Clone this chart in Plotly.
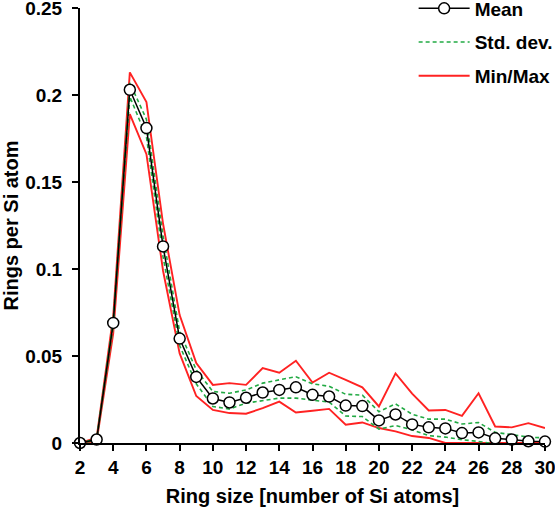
import plotly.graph_objects as go

ring_size = list(range(2, 31))
mean_vals = [0, 0.002, 0.069, 0.203, 0.181, 0.113, 0.060, 0.038, 0.0256, 0.0233,
             0.026, 0.029, 0.0305, 0.032, 0.0277, 0.0267, 0.0215, 0.0212, 0.013, 0.0164,
             0.0107, 0.009, 0.0084, 0.0057, 0.0061, 0.0027, 0.002, 0.001, 0.0008]
max_vals = [0, 0.003, 0.073, 0.213, 0.196, 0.126, 0.0735, 0.046, 0.0334, 0.0344,
            0.0334, 0.043, 0.0404, 0.0473, 0.0347, 0.0404, 0.0363, 0.032, 0.021, 0.040,
            0.0284, 0.0187, 0.019, 0.0156, 0.0286, 0.0095, 0.009, 0.0114, 0.0086]
min_vals = [0, 0.001, 0.063, 0.189, 0.166, 0.099, 0.0515, 0.027, 0.019, 0.0172,
            0.0168, 0.020, 0.0238, 0.0175, 0.0185, 0.0196, 0.0105, 0.0118, 0.0086, 0.0067,
            0.0040, 0.0029, 0, 0, 0, 0, 0, 0, 0]
std_upper = [0, 0.0025, 0.071, 0.207, 0.186, 0.119, 0.064, 0.042, 0.0296, 0.0286,
             0.0305, 0.0344, 0.0363, 0.0381, 0.034, 0.0326, 0.028, 0.0275, 0.018, 0.0225,
             0.0165, 0.0137, 0.0137, 0.0109, 0.0118, 0.0061, 0.0048, 0.0034, 0.0029]
std_lower = [0, 0.0015, 0.067, 0.199, 0.176, 0.107, 0.056, 0.034, 0.021, 0.0195,
             0.0229, 0.0244, 0.0258, 0.0258, 0.0248, 0.0235, 0.0155, 0.0152, 0.008, 0.010,
             0.0076, 0.0042, 0.0034, 0.0019, 0.0009, -0.0005, -0.0005, -0.001, -0.001]

x_ticks = list(range(2, 31, 2))
y_ticks = [0, 0.05, 0.1, 0.15, 0.2, 0.25]
y_ticktext = ["0", "0.05", "0.1", "0.15", "0.2", "0.25"]

RED = "#ff2222"
GREEN = "#22aa44"
FONT = dict(family="Liberation Sans, Arial, sans-serif", size=20, color="black", weight="bold")
TICKFONT = dict(FONT, size=19)
LEGFONT = dict(FONT, size=19)

fig = go.Figure()
fig.add_trace(go.Scatter(x=ring_size, y=max_vals, mode="lines", name="Min/Max",
                         line=dict(color=RED, width=1.9), legendgroup="mm", legendrank=3,
                         cliponaxis=False))
fig.add_trace(go.Scatter(x=ring_size, y=min_vals, mode="lines", name="Min/Max",
                         line=dict(color=RED, width=1.9), legendgroup="mm", showlegend=False,
                         cliponaxis=False))
fig.add_trace(go.Scatter(x=ring_size, y=std_upper, mode="lines", name="Std. dev.",
                         line=dict(color=GREEN, width=1.6, dash="4px,3px"), legendgroup="sd",
                         legendrank=2, cliponaxis=False))
fig.add_trace(go.Scatter(x=ring_size, y=std_lower, mode="lines", name="Std. dev.",
                         line=dict(color=GREEN, width=1.6, dash="4px,3px"), legendgroup="sd",
                         showlegend=False, cliponaxis=False))
fig.add_trace(go.Scatter(x=ring_size, y=mean_vals, mode="lines+markers", name="Mean",
                         line=dict(color="black", width=1.5),
                         marker=dict(symbol="circle", size=11, color="white",
                                     line=dict(color="black", width=1.5)),
                         legendgroup="mean", legendrank=1, cliponaxis=False))

fig.update_layout(
    width=555, height=508,
    margin=dict(l=80, r=10, t=8, b=65, autoexpand=False),
    paper_bgcolor="white", plot_bgcolor="white",
    font=FONT,
    showlegend=True,
    legend=dict(x=0.7175, y=1.0425, xanchor="left", yanchor="top",
                bgcolor="rgba(0,0,0,0)", font=LEGFONT, tracegroupgap=6,
                traceorder="grouped", itemwidth=51),
    xaxis=dict(range=[1.999, 30.001], tickvals=x_ticks + [30], showline=True, linecolor="black",
               linewidth=2, ticks="outside", ticklen=6, tickwidth=1.5, tickcolor="black",
               showgrid=False, zeroline=False, tickfont=TICKFONT, automargin=False,
               ticklabeloverflow="allow",
               title=dict(text="Ring size [number of Si atoms]", font=FONT, standoff=12)),
    yaxis=dict(range=[0, 0.25], tickvals=y_ticks, ticktext=y_ticktext, showline=True,
               linecolor="black", linewidth=2, ticks="outside", ticklen=6, tickwidth=1.5,
               tickcolor="black", showgrid=False, zeroline=False, tickfont=TICKFONT,
               ticklabelstandoff=6, automargin=False, ticklabeloverflow="allow"),
    annotations=[dict(text="Rings per Si atom", xref="paper", yref="paper", x=0, y=0.5,
                      xanchor="center", yanchor="middle", xshift=-70, textangle=-90,
                      showarrow=False, font=FONT)],
)

fig.write_html("out.html")
